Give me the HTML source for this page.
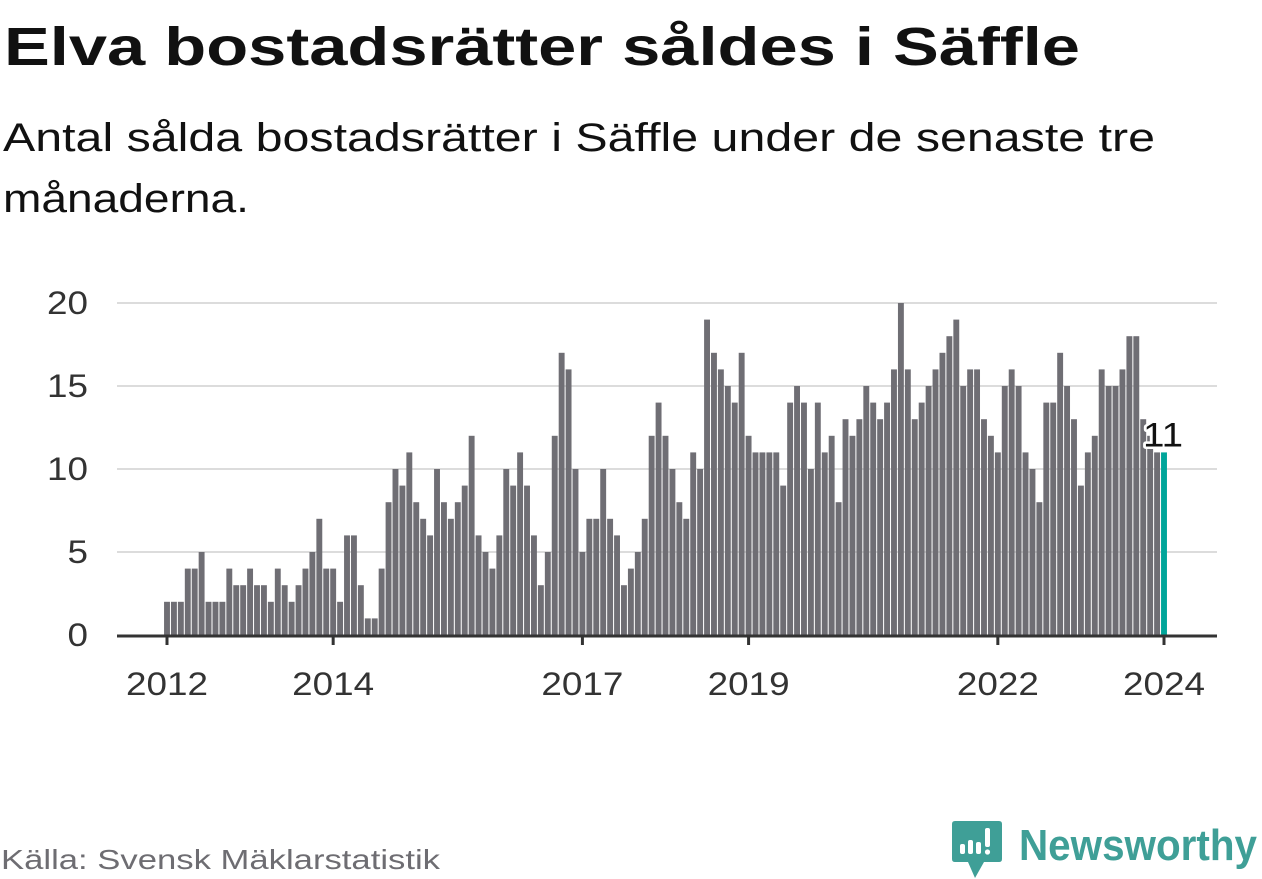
<!DOCTYPE html>
<html><head><meta charset="utf-8"><style>
html,body{margin:0;padding:0;background:#fff;}
svg{display:block;font-family:"Liberation Sans",sans-serif;}
</style></head><body>
<svg id="chart" width="1262" height="879" viewBox="0 0 1262 879" xmlns="http://www.w3.org/2000/svg">
<text x="4" y="65" font-size="54" font-weight="bold" fill="#111" textLength="1076" lengthAdjust="spacingAndGlyphs">Elva bostadsrätter såldes i Säffle</text>
<text x="3" y="151" font-size="40" fill="#111" textLength="1152" lengthAdjust="spacingAndGlyphs">Antal sålda bostadsrätter i Säffle under de senaste tre</text>
<text x="3" y="212" font-size="40" fill="#111" textLength="246" lengthAdjust="spacingAndGlyphs">månaderna.</text>
<g id="grid"></g>
<g id="yaxis"></g>
<g id="bars"></g>
<g id="xaxis"></g>
<g id="annot"></g>
<text x="1" y="869" font-size="28" fill="#6e6d72" textLength="439" lengthAdjust="spacingAndGlyphs">Källa: Svensk Mäklarstatistik</text>
<g>
<path d="M955 821 H999 Q1002 821 1002 824 V859 Q1002 862 999 862 H984 L975 878 L968 862 H955 Q952 862 952 859 V824 Q952 821 955 821 Z" fill="#3f9f97"/>
<rect x="960" y="844" width="5" height="10" rx="2" fill="#fff"/>
<rect x="968" y="840" width="5" height="14" rx="2" fill="#fff"/>
<rect x="976" y="842" width="5" height="12" rx="2" fill="#fff"/>
<rect x="985" y="828" width="5" height="19" rx="2" fill="#fff"/>
<circle cx="987.5" cy="852" r="2.6" fill="#fff"/>
<text x="1019" y="860" font-size="44" font-weight="bold" fill="#3f9f97" textLength="238" lengthAdjust="spacingAndGlyphs">Newsworthy</text>
</g>
</svg>
<script>
const values = [2,2,2,4,4,5,2,2,2,4,3,3,
4,3,3,2,4,3,2,3,4,5,7,4,
4,2,6,6,3,1,1,4,8,10,9,11,
8,7,6,10,8,7,8,9,12,6,5,4,
6,10,9,11,9,6,3,5,12,17,16,10,
5,7,7,10,7,6,3,4,5,7,12,14,
12,10,8,7,11,10,19,17,16,15,14,17,
12,11,11,11,11,9,14,15,14,10,14,11,
12,8,13,12,13,15,14,13,14,16,20,16,
13,14,15,16,17,18,19,15,16,16,13,12,
11,15,16,15,11,10,8,14,14,17,15,13,
9,11,12,16,15,15,16,18,18,13,12,11,
11];
const yTicks = [0,5,10,15,20];
const xTickLabels = ["2012","2014","2017","2019","2022","2024"];
const xTickIndex = [0,24,60,84,120,144];
const lastLabel = "11";

const NS = "http://www.w3.org/2000/svg";
const x0 = 167, step = (1164-167)/144, y0 = 635, yUnit = (635-303)/20;
const xs = i => x0 + i*step;
const ys = v => y0 - v*yUnit;
function mk(tag, attrs, parent){const e=document.createElementNS(NS,tag);for(const k in attrs)e.setAttribute(k,attrs[k]);parent.appendChild(e);return e;}
const grid=document.getElementById('grid'), yaxis=document.getElementById('yaxis'), bars=document.getElementById('bars'), xaxis=document.getElementById('xaxis'), annot=document.getElementById('annot');
yTicks.forEach(t=>{
  if(t>0){const l=mk('line',{x1:117,x2:1217,y1:ys(t),y2:ys(t),stroke:'#dcdcdc','stroke-width':2},grid);
  
  }
  const s=String(t);
  const tx=mk('text',{x:88,y:ys(t)+11,'font-size':32,fill:'#333','text-anchor':'end',textLength:s.length*20.5,lengthAdjust:'spacingAndGlyphs'},yaxis);
  tx.textContent=s;
  
  
});
values.forEach((v,i)=>{
  const r=mk('rect',{x:xs(i)-2.95,y:ys(v),width:5.9,height:v*yUnit,fill:i===values.length-1?'#00a59a':'#6f6e74'},bars);
  
  
});
const base=mk('line',{x1:117,x2:1217,y1:y0+1,y2:y0+1,stroke:'#333','stroke-width':3},xaxis);


xTickIndex.forEach((idx,k)=>{
  const x=xs(idx);
  const tk=mk('line',{x1:x,x2:x,y1:y0,y2:y0+10,stroke:'#333','stroke-width':3},xaxis);
  
  
  const tx=mk('text',{x:x-41,y:695,'font-size':32,fill:'#333',textLength:82,lengthAdjust:'spacingAndGlyphs'},xaxis);
  tx.textContent=xTickLabels[k];
  
  
});
const lx=xs(values.length-1)-21, ly=ys(values[values.length-1])-4;
const lab=mk('text',{x:lx,y:ly-2,'font-size':34,fill:'#111',textLength:40,lengthAdjust:'spacingAndGlyphs',stroke:'#fff','stroke-width':5,'paint-order':'stroke','stroke-linejoin':'round'},annot);
lab.textContent=lastLabel;


</script>
</body></html>
